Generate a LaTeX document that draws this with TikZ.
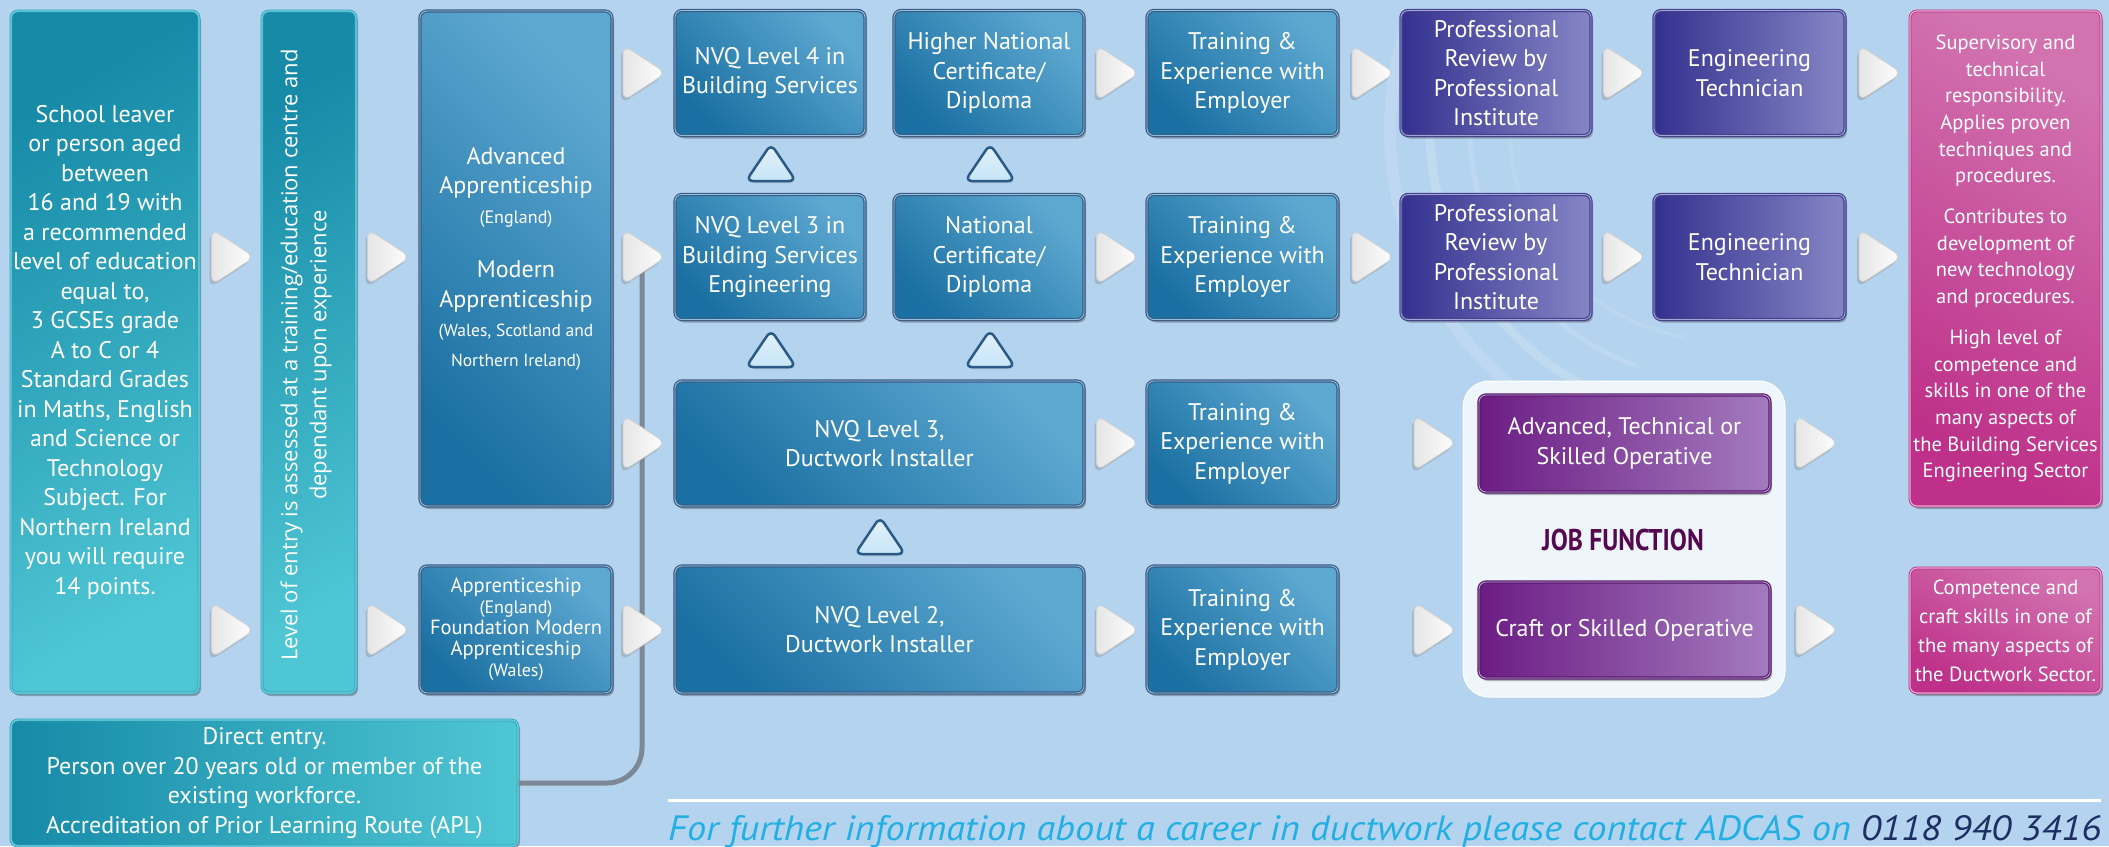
\documentclass[tikz,border=0pt]{standalone}
\usepackage{fontspec}
\usepackage{graphicx}
\setmainfont{PT Sans}
\newfontfamily\vfont{Open Sans}
\usetikzlibrary{shadows}
\definecolor{bg}{HTML}{B4D3EE}
\definecolor{tealD}{HTML}{168AA7}
\definecolor{tealL}{HTML}{4FC6D4}
\definecolor{tealB}{HTML}{2C9FB8}
\definecolor{tealE}{HTML}{6FD2DF}
\definecolor{blueD}{HTML}{1A70A2}
\definecolor{blueL}{HTML}{5DA8D1}
\definecolor{blueB}{HTML}{3D5B83}
\definecolor{blueI}{HTML}{8CC2E2}
\definecolor{purD}{HTML}{33318E}
\definecolor{purL}{HTML}{8686C6}
\definecolor{purB}{HTML}{45418F}
\definecolor{purI}{HTML}{A3A3D8}
\definecolor{magD}{HTML}{6C1C84}
\definecolor{magL}{HTML}{A47BBE}
\definecolor{magB}{HTML}{561B6C}
\definecolor{magI}{HTML}{C09AD4}
\definecolor{pinkD}{HTML}{BE3089}
\definecolor{pinkL}{HTML}{D273B0}
\definecolor{pinkB}{HTML}{B5307F}
\definecolor{pinkI}{HTML}{EDA8D4}
\definecolor{jobC}{HTML}{55084F}
\definecolor{panelC}{HTML}{EEF5FB}
\definecolor{footC}{HTML}{22B0E4}
\definecolor{phoneC}{HTML}{1D2E62}
\definecolor{lineC}{HTML}{7C8895}
\definecolor{triF}{HTML}{C7E5F7}
\definecolor{triB}{HTML}{2C5A86}
\tikzset{
  sz/.style 2 args={minimum width=#1pt, minimum height=#2pt},
  base/.style={rounded corners=7pt, inner sep=1pt, text=white, align=center,
    font=\fontsize{24}{29.5}\selectfont,
    drop shadow={shadow xshift=2pt, shadow yshift=-3pt, opacity=0.35, fill=black!80}},
  tealbox/.style={base, top color=tealD, bottom color=tealL, shading angle=30,
    draw=tealB, line width=0.8pt, double=tealE, double distance=1.2pt},
  tealwide/.style={base, left color=tealD, right color=tealL,
    draw=tealB, line width=0.8pt, double=tealE, double distance=1.2pt},
  bluebox/.style={base, top color=blueL, bottom color=blueD, shading angle=-45,
    draw=blueB, line width=1.2pt, double=blueI, double distance=0.9pt},
  purbox/.style={base, left color=purD, right color=purL,
    draw=purB, line width=1.2pt, double=purI, double distance=0.9pt},
  magbox/.style={base, left color=magD, right color=magL,
    draw=magB, line width=1.2pt, double=magI, double distance=0.9pt},
  pinkbox/.style={base, top color=pinkL, bottom color=pinkD, shading angle=-30,
    draw=pinkB, line width=0.8pt, double=pinkI, double distance=1.2pt,
    font=\fontsize{20.5}{26.7}\selectfont},
  panelbox/.style={fill=panelC, rounded corners=26pt, draw=white, line width=1pt},
  conn/.style={draw=lineC, line width=5pt, rounded corners=35pt},
  rarrow/.pic={
    \path[rounded corners=9pt, draw=black!18, line width=0.8pt,
      left color=black!10, middle color=white, right color=white,
      drop shadow={shadow xshift=-2pt, shadow yshift=-3pt, opacity=0.35}]
      (-20,-28) -- (23,0) -- (-20,28) -- cycle;
  },
  utri/.pic={
    \path[rounded corners=7pt, draw=triB, line width=2.5pt,
      top color=triF!50!white, bottom color=triF,
      drop shadow={shadow xshift=1pt, shadow yshift=-2pt, opacity=0.3}]
      (-25,18) -- (0,-19) -- (25,18) -- cycle;
  },
}
\begin{document}
\begin{tikzpicture}[x=1pt,y=-1pt]
\useasboundingbox (0,0) rectangle (2109,846);
\clip (0,0) rectangle (2109,846);
\fill[bg] (0,0) rectangle (2109,846);
% faint swirl
\begin{scope}[draw=white, line cap=round]
  \draw[opacity=0.16, line width=9pt] (1720,130) ++(178:290) arc[start angle=178, end angle=118, radius=290];
  \draw[opacity=0.12, line width=5pt] (1720,130) ++(185:250) arc[start angle=185, end angle=110, radius=250];
  \draw[opacity=0.10, line width=4pt] (1720,130) ++(190:210) arc[start angle=190, end angle=100, radius=210];
  \draw[opacity=0.12, line width=12pt] (1720,130) ++(200:330) arc[start angle=200, end angle=125, radius=330];
\end{scope}

% connector from direct entry
\coordinate (jn) at (642,257);

% teal boxes
\node[tealbox, sz={188}{682}] (school) at (105,352) {School leaver\\or person aged\\between\\16 and 19 with\\a recommended\\level of education\\equal to,\\3 GCSEs grade\\A to C or 4\\Standard Grades\\in Maths, English\\and Science or\\Technology\\Subject. For\\Northern Ireland\\you will require\\14 points.};
\node[tealbox, sz={94}{682}] (entry) at (309,352) {};
\node[rotate=90, text=white, align=center, font=\vfont\fontsize{22}{29}\selectfont] (entrytxt) at (306,355) {Level of entry is assessed at a training/education centre and\\dependant upon experience};
\node[tealwide, sz={507}{126}] (direct) at (264.5,783) {Direct entry.\\Person over 20 years old or member of the\\existing workforce.\\Accreditation of Prior Learning Route (APL)};
\draw[conn] (direct.east) -| (jn);

% apprenticeship boxes
\node[bluebox, sz={192}{495}] (adv) at (516,258.5) {Advanced\\Apprenticeship\\{\fontsize{18}{29}\selectfont(England)}\\[25pt]Modern\\Apprenticeship\\{\fontsize{17.5}{29}\selectfont(Wales, Scotland and}\\{\fontsize{17.5}{29}\selectfont Northern Ireland)}};
\node[bluebox, sz={192}{127}, font=\fontsize{20.5}{21}\selectfont] (found) at (516,629.5) {Apprenticeship\\{\fontsize{18}{21}\selectfont(England)}\\Foundation Modern\\Apprenticeship\\{\fontsize{18}{21}\selectfont(Wales)}};

% qualification boxes
\node[bluebox, sz={190}{125}] (nvq4) at (770,73) {NVQ Level 4 in\\Building Services};
\node[bluebox, sz={190}{125}] (hnc) at (989,73) {Higher National\\Certificate/\\Diploma};
\node[bluebox, sz={190}{125}] (nvq3b) at (770,257) {NVQ Level 3 in\\Building Services\\Engineering};
\node[bluebox, sz={190}{125}] (nc) at (989,257) {National\\Certificate/\\Diploma};
\node[bluebox, sz={409}{125}] (nvq3d) at (879.5,443.5) {NVQ Level 3,\\Ductwork Installer};
\node[bluebox, sz={409}{127}] (nvq2d) at (879.5,629.5) {NVQ Level 2,\\Ductwork Installer};

% training boxes
\node[bluebox, sz={191}{125}] (tr1) at (1242.5,73) {Training \&\\Experience with\\Employer};
\node[bluebox, sz={191}{125}] (tr2) at (1242.5,257) {Training \&\\Experience with\\Employer};
\node[bluebox, sz={191}{125}] (tr3) at (1242.5,443.5) {Training \&\\Experience with\\Employer};
\node[bluebox, sz={191}{127}] (tr4) at (1242.5,629.5) {Training \&\\Experience with\\Employer};

% professional review / technician
\node[purbox, sz={190}{125}] (pr1) at (1496,73) {Professional\\Review by\\Professional\\Institute};
\node[purbox, sz={190}{125}] (pr2) at (1496,257) {Professional\\Review by\\Professional\\Institute};
\node[purbox, sz={191}{125}] (et1) at (1749.5,73) {Engineering\\Technician};
\node[purbox, sz={191}{125}] (et2) at (1749.5,257) {Engineering\\Technician};

% job function panel
\node[panelbox, sz={322}{316}] (panel) at (1624,539) {};
\node[magbox, sz={291}{97}] (advop) at (1624.5,443.5) {Advanced, Technical or\\Skilled Operative};
\node[magbox, sz={291}{96}] (craft) at (1624.5,630) {Craft or Skilled Operative};
\node[text=jobC, font=\bfseries\fontsize{30}{34}\selectfont] (job) at (1623,540) {\scalebox{0.85}[1]{JOB FUNCTION}};

% outcome boxes
\node[pinkbox, sz={191}{495}] (out1) at (2005.5,258.5) {Supervisory and\\technical\\responsibility.\\Applies proven\\techniques and\\procedures.\\[14pt]Contributes to\\development of\\new technology\\and procedures.\\[14pt]High level of\\competence and\\skills in one of the\\many aspects of\\the Building Services\\Engineering Sector};
\node[pinkbox, sz={191}{125}, font=\fontsize{20.5}{29}\selectfont] (out2) at (2005.5,630.5) {Competence and\\craft skills in one of\\the many aspects of\\the Ductwork Sector.};

% up triangles
\pic at (771,163) {utri};
\pic at (990,163) {utri};
\pic at (771,349) {utri};
\pic at (990,349) {utri};
\pic at (880,536) {utri};

% right arrows
\foreach \yy in {257,630} {
  \pic at (231.5,\yy) {rarrow};
  \pic at (387.5,\yy) {rarrow};
}
\foreach \yy in {73,257,443,630} {
  \pic at (643,\yy) {rarrow};
  \pic at (1116.5,\yy) {rarrow};
}
\foreach \yy in {73,257} {
  \pic at (1372,\yy) {rarrow};
  \pic at (1623.5,\yy) {rarrow};
  \pic at (1879,\yy) {rarrow};
}
\foreach \yy in {443,630} {
  \pic at (1434,\yy) {rarrow};
  \pic at (1816,\yy) {rarrow};
}

% footer
\coordinate (fl) at (668,800);
\coordinate (fr) at (2101,800);
\draw[white, line width=3pt] (fl) -- (fr);
\node[anchor=base west, inner sep=0pt] (foot) at (668,840) {\resizebox{1433pt}{25pt}{\itshape\color{footC}For further information about a career in ductwork please contact ADCAS on \color{phoneC}0118 940 3416}};
\end{tikzpicture}
\end{document}
